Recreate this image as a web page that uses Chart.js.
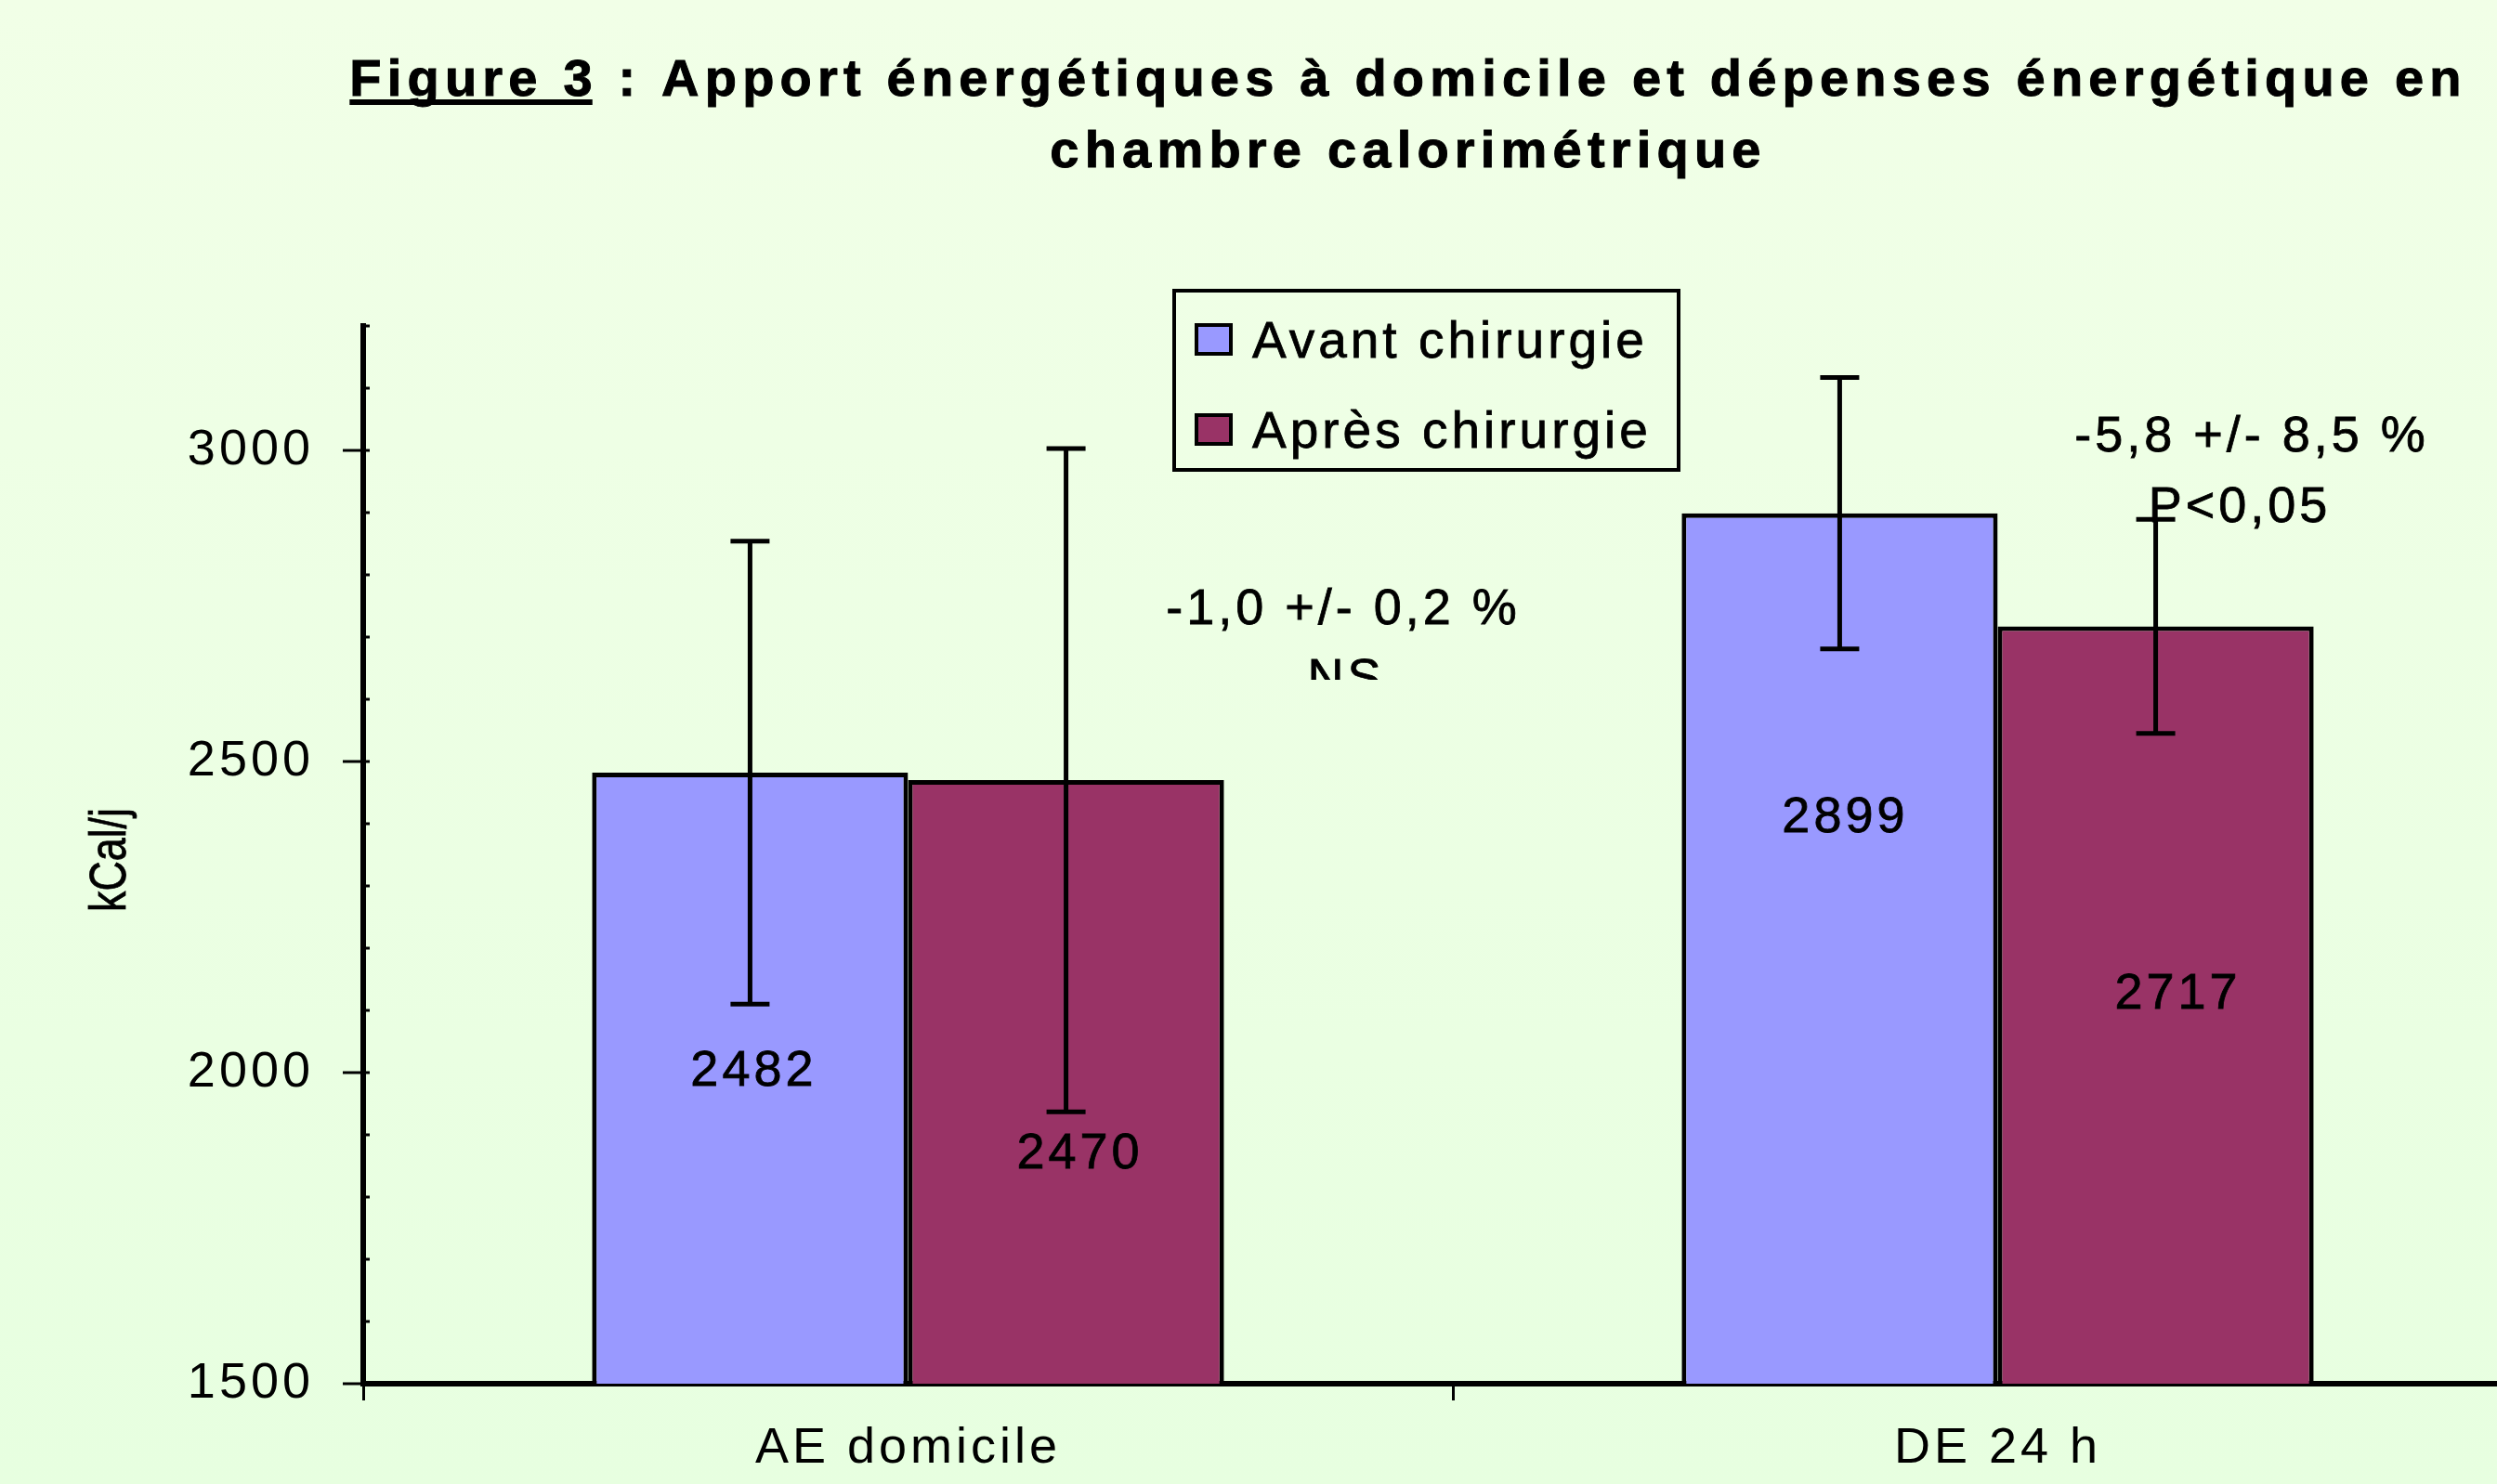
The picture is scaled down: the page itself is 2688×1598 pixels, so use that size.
<!DOCTYPE html>
<html><head><meta charset="utf-8">
<script src="https://cdn.jsdelivr.net/npm/chart.js@4.4.0/dist/chart.umd.min.js"></script>
<style>
html,body{margin:0;padding:0;overflow:hidden;background:#EBFFE2;width:2688px;height:1598px}
#wrap{position:absolute;left:0;top:0;width:2740px;height:1598px}
</style></head><body>
<div id="wrap"><canvas id="c" width="2740" height="1598" style="width:2740px;height:1598px"></canvas></div>
<script>
// ---- data ----
const categories = ['AE domicile', 'DE 24 h'];
const seriesNames = ['Avant chirurgie', 'Après chirurgie'];
const avant = [2482, 2899];
const apres = [2470, 2717];
const errAvant = [372, 218];
const errApres = [533, 172];
const yTickLabels = [1500, 2000, 2500, 3000];
const titleUnderlined = 'Figure 3';
const titleRest = ' : Apport énergétiques à domicile et dépenses énergétique en';
const titleLine2 = 'chambre calorimétrique';
const yAxisTitle = 'kCal/j';
const noteAE = ['-1,0 +/- 0,2 %', 'NS'];
const noteDE = ['-5,8 +/- 8,5 %', 'P<0,05'];

const FONT = '"Liberation Sans", Arial, Helvetica, sans-serif';
const colors = ['#9999FF', '#993366'];

function heavyText(ctx, txt, x, y, w) {
  ctx.fillText(txt, x, y);
  ctx.lineWidth = w;
  ctx.strokeStyle = ctx.fillStyle;
  ctx.strokeText(txt, x, y);
}

const decor = {
  id: 'decor',
  beforeUpdate(chart){ chart.ctx.letterSpacing = '4px'; },
  beforeDraw(chart){
    const ctx = chart.ctx;
    ctx.save();
    const g = ctx.createLinearGradient(0, 0, 0, chart.height);
    g.addColorStop(0, '#F1FFE7');
    g.addColorStop(1, '#E7FFE0');
    ctx.fillStyle = g;
    ctx.fillRect(0, 0, chart.width, chart.height);
    ctx.restore();
    ctx.letterSpacing = '4px';
  },
  afterDatasetsDraw(chart, args, opts){
    const ctx = chart.ctx, ys = chart.scales.y;
    const errs = [errAvant, errApres];
    ctx.save();
    // error bars
    ctx.strokeStyle = '#000';
    chart.data.datasets.forEach((ds, i) => {
      const meta = chart.getDatasetMeta(i);
      meta.data.forEach((bar, j) => {
        const v = ds.data[j], e = errs[i][j];
        const x = bar.x;
        const yt = ys.getPixelForValue(v + e), yb = ys.getPixelForValue(v - e);
        ctx.beginPath();
        ctx.moveTo(x, yt); ctx.lineTo(x, yb);
        ctx.moveTo(x - 21, yt); ctx.lineTo(x + 21, yt);
        ctx.moveTo(x - 21, yb); ctx.lineTo(x + 21, yb);
        ctx.lineWidth = 5;
        ctx.stroke();
      });
    });
    // value labels
    ctx.fillStyle = '#000';
    ctx.font = '54px ' + FONT;
    ctx.letterSpacing = '4px';
    ctx.textAlign = 'center';
    ctx.textBaseline = 'middle';
    const place = opts.labelPlacement;
    const basePx = ys.getPixelForValue(ys.min);
    chart.data.datasets.forEach((ds, i) => {
      const meta = chart.getDatasetMeta(i);
      meta.data.forEach((bar, j) => {
        const p = place[i][j];
        const y = bar.y + p.f * (basePx - bar.y);
        heavyText(ctx, String(ds.data[j]), bar.x + p.dx, y, 0.8);
      });
    });
    ctx.restore();
  },
  afterDraw(chart, args, opts){
    const ctx = chart.ctx, ys = chart.scales.y, ca = chart.chartArea;
    ctx.save();
    ctx.letterSpacing = '4px';
    // y ticks (major + minor)
    ctx.strokeStyle = '#000';
    ctx.lineWidth = 3;
    ys.ticks.forEach(t => {
      const y = ys.getPixelForValue(t.value);
      const major = yTickLabels.includes(t.value);
      ctx.beginPath();
      ctx.moveTo(major ? ca.left - 22 : ca.left, y);
      ctx.lineTo(ca.left + 7, y);
      ctx.stroke();
    });
    // y axis title (condensed)
    ctx.save();
    ctx.translate(opts.yTitle.x, opts.yTitle.y);
    ctx.rotate(-Math.PI / 2);
    ctx.scale(0.8, 1);
    ctx.letterSpacing = '0px';
    ctx.font = '56px ' + FONT;
    ctx.fillStyle = '#000';
    ctx.textAlign = 'center';
    ctx.textBaseline = 'middle';
    heavyText(ctx, yAxisTitle, 0, 0, 0.8);
    ctx.restore();
    // title
    ctx.font = 'bold 56px ' + FONT;
    ctx.letterSpacing = '6.2px';
    ctx.fillStyle = '#000';
    ctx.textBaseline = 'alphabetic';
    ctx.textAlign = 'left';
    const w1 = ctx.measureText(titleUnderlined).width;
    const w2 = ctx.measureText(titleRest).width;
    const x0 = opts.title.cx - (w1 + w2) / 2;
    heavyText(ctx, titleUnderlined, x0, opts.title.y1, 1);
    heavyText(ctx, titleRest, x0 + w1, opts.title.y1, 1);
    ctx.fillRect(x0, opts.title.y1 + 4, w1 - 6, 6);
    ctx.textAlign = 'center';
    heavyText(ctx, titleLine2, opts.title.cx, opts.title.y2, 1);
    // legend
    const L = opts.legend;
    ctx.letterSpacing = '4px';
    ctx.lineWidth = 4;
    ctx.strokeStyle = '#000';
    ctx.strokeRect(L.x, L.y, L.w, L.h);
    ctx.font = '55px ' + FONT;
    ctx.textAlign = 'left';
    ctx.textBaseline = 'alphabetic';
    chart.data.datasets.forEach((ds, i) => {
      const sy = L.rowY[i];
      ctx.fillStyle = ds.backgroundColor;
      ctx.fillRect(L.x + 24, sy - 35, 37, 31);
      ctx.lineWidth = 4;
      ctx.strokeStyle = '#000';
      ctx.strokeRect(L.x + 24, sy - 35, 37, 31);
      ctx.fillStyle = '#000';
      heavyText(ctx, ds.label, L.x + 84, sy, 0.8);
    });
    // annotations
    ctx.font = '54px ' + FONT;
    ctx.textAlign = 'center';
    ctx.fillStyle = '#000';
    opts.notes.forEach(n => {
      n.lines.forEach((txt, k) => {
        ctx.save();
        if (n.clipBottom) { ctx.beginPath(); ctx.rect(0, 0, chart.width, n.clipBottom); ctx.clip(); }
        heavyText(ctx, txt, n.x[k], n.y[k], 0.8);
        ctx.restore();
      });
    });
    ctx.restore();
  }
};

new Chart(document.getElementById('c'), {
  type: 'bar',
  data: {
    labels: categories,
    datasets: [
      { label: seriesNames[0], data: avant, backgroundColor: colors[0], borderColor: '#000', borderWidth: 5 },
      { label: seriesNames[1], data: apres, backgroundColor: colors[1], borderColor: '#000', borderWidth: 5 }
    ]
  },
  options: {
    responsive: false,
    animation: false,
    events: [],
    layout: { padding: { left: 0, right: 3, top: 351, bottom: 0 } },
    datasets: { bar: { categoryPercentage: 0.58, barPercentage: 1.0 } },
    plugins: {
      legend: { display: false },
      tooltip: { enabled: false },
      title: { display: false },
      decor: {
        labelPlacement: [
          [{ dx: 4, f: 0.49 }, { dx: 6, f: 0.35 }],
          [{ dx: 15, f: 0.62 }, { dx: 24, f: 0.486 }]
        ],
        yTitle: { x: 120, y: 926 },
        title: { cx: 1516, y1: 103, y2: 180 },
        legend: { x: 1264, y: 313, w: 543, h: 193, rowY: [385, 482] },
        notes: [
          { lines: noteAE, x: [1446, 1449], y: [672, 747], clipBottom: 732 },
          { lines: noteDE, x: [2424, 2411], y: [486, 562] }
        ]
      }
    },
    scales: {
      x: {
        offset: true,
        grid: { display: true, drawOnChartArea: false, offset: true, tickLength: 18, tickWidth: 3, tickColor: '#000' },
        border: { display: true, width: 6, color: '#000' },
        ticks: { color: '#000', font: { family: FONT, size: 54 }, padding: 20 },
        afterFit(s){ s.height = 108; }
      },
      y: {
        min: 1500, max: 3200,
        grid: { display: true, drawOnChartArea: false, drawTicks: false },
        border: { display: true, width: 6, color: '#000' },
        ticks: {
          stepSize: 100, autoSkip: false, color: '#000', padding: 53,
          font: { family: FONT, size: 54 },
          callback: v => yTickLabels.includes(v) ? String(v) : ''
        },
        afterFit(s){ s.width = 391; }
      }
    }
  },
  plugins: [decor]
});
</script>
</body></html>
